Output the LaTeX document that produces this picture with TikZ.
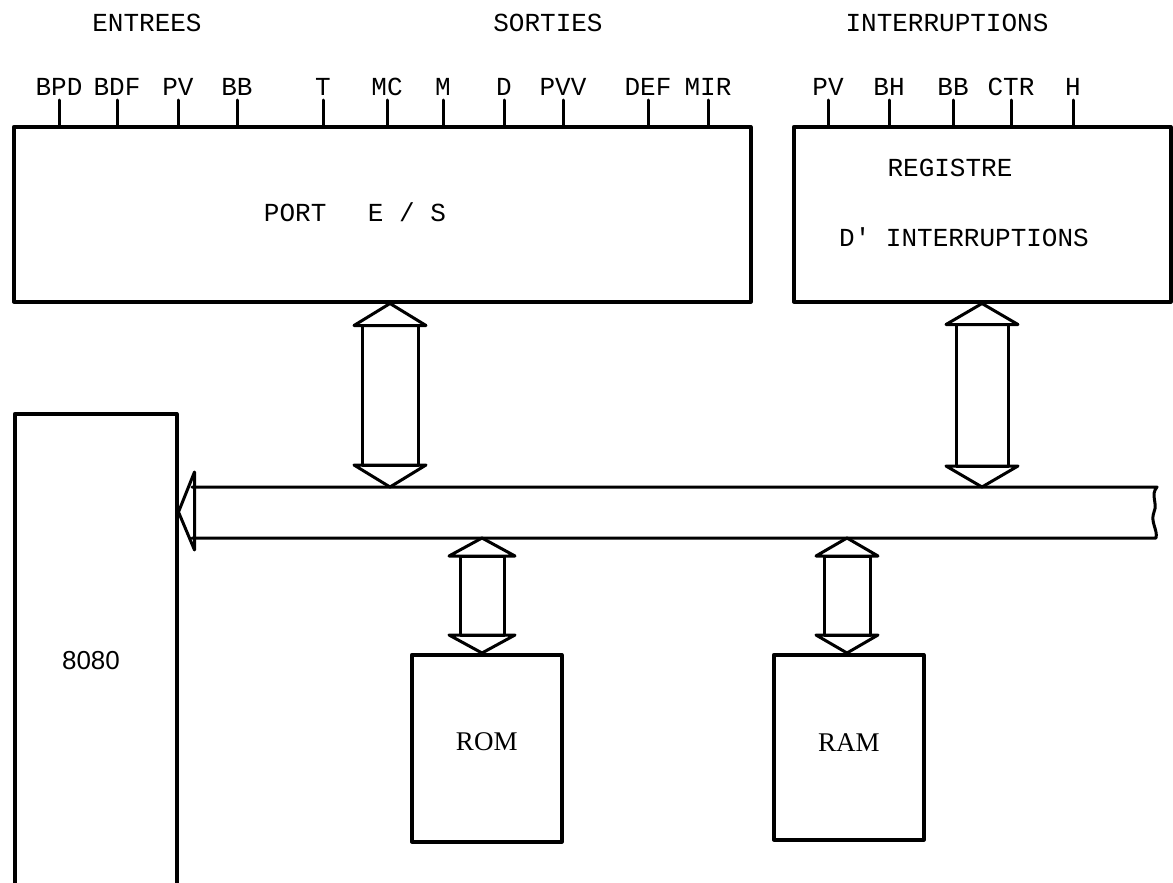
\documentclass[tikz,border=0pt]{standalone}
\usepackage{fontspec}
\setmonofont{Liberation Mono}
\newfontfamily\cpufont{Liberation Sans}
\newfontfamily\memfont{Liberation Serif}
\usetikzlibrary{calc}

\tikzset{
  box/.style={draw, line width=3.5pt, anchor=north west, inner sep=0pt},
  pin/.style={line width=3pt},
  lbl/.style={font=\ttfamily\fontsize{26}{30}\selectfont, inner sep=0pt},
  memlbl/.style={font=\memfont\fontsize{27}{32}\selectfont, inner sep=0pt},
  busline/.style={line width=3pt},
  arrowbody/.style={line width=3pt, line join=round},
}

% hollow double arrow: top tip, bottom tip, head half width, shaft half width, head length
\newcommand{\dblarrow}[5]{%
  \draw[arrowbody] (#1) -- ($(#1)+(#3,#5)$) -- ($(#1)+(-#3,#5)$) -- cycle;
  \draw[arrowbody] ($(#1)+(-#4,#5)$) rectangle ($(#2)+(#4,-#5)$);
  \draw[arrowbody] (#2) -- ($(#2)+(#3,-#5)$) -- ($(#2)+(-#3,-#5)$) -- cycle;
}

\begin{document}
\begin{tikzpicture}[x=1pt,y=-1pt,line cap=round,line join=round]
  \fill[white] (0,0) rectangle (1173,883);
  \clip (0,0) rectangle (1173,883);

  \node[lbl] (entrees) at (147,23) {ENTREES};
  \node[lbl] (sorties) at (548,23) {SORTIES};
  \node[lbl] (interr) at (947,23) {INTERRUPTIONS};

  \node[box, minimum width=737pt, minimum height=175pt] (port) at (12,125) {};
  \node[box, minimum width=377pt, minimum height=175pt] (reg) at (792,125) {};
  \node[box, minimum width=162pt, minimum height=520pt] (cpu) at (13,412) {};
  \node[box, minimum width=150pt, minimum height=187pt] (rom) at (410,653) {};
  \node[box, minimum width=150pt, minimum height=185pt] (ram) at (772,653) {};

  \node[lbl] (portlbl) at (355,212) {PORT\hspace{1.6em}E / S};
  \node[lbl] (reglbl) at (950,168) {REGISTRE};
  \node[lbl] (itlbl) at (964,237) {D' INTERRUPTIONS};
  \node[font=\cpufont\fontsize{26}{30}\selectfont, inner sep=0pt] (cpulbl) at (91,661) {8080};
  \node[memlbl] (romlbl) at (rom.center |- 0,742) {ROM};
  \node[memlbl] (ramlbl) at (ram.center |- 0,743) {RAM};

  \foreach \x/\t in {59/BPD, 117/BDF, 178/PV, 237/BB, 323/T, 387/MC,
                     443/M, 504/D, 563/PVV, 648/DEF, 708/MIR}
    \draw[pin] (port.north -| \x,0) -- ++(0,-25) node[lbl, anchor=south, yshift=3pt] (in-\t) {\t};
  \foreach \x/\t in {828/PV, 889/BH, 953/BB, 1011/CTR, 1073/H}
    \draw[pin] (reg.north -| \x,0) -- ++(0,-25) node[lbl, anchor=south, yshift=3pt] (it-\t) {\t};

  \coordinate (bustop) at (0,487);
  \coordinate (busbot) at (0,538);
  \coordinate (bustip) at (cpu.east |- 0,512);
  \draw[busline] (192,487) -- (1157,487)
    .. controls (1150,495) and (1158,503) .. (1154,512)
    .. controls (1150,522) and (1158,530) .. (1156,538) -- (192,538);
  \draw[busline] (bustip) -- ++(16,-40) -- ++(0,78) -- cycle;

  \dblarrow{port.south -| 390,0}{390,0 |- bustop}{36}{28}{22}
  \dblarrow{reg.south -| 982,0}{982,0 |- bustop}{36}{26}{21}
  \dblarrow{482,0 |- busbot}{rom.north -| 482,0}{33}{22}{18}
  \dblarrow{847,0 |- busbot}{ram.north -| 847,0}{31}{23}{18}
\end{tikzpicture}
\end{document}
